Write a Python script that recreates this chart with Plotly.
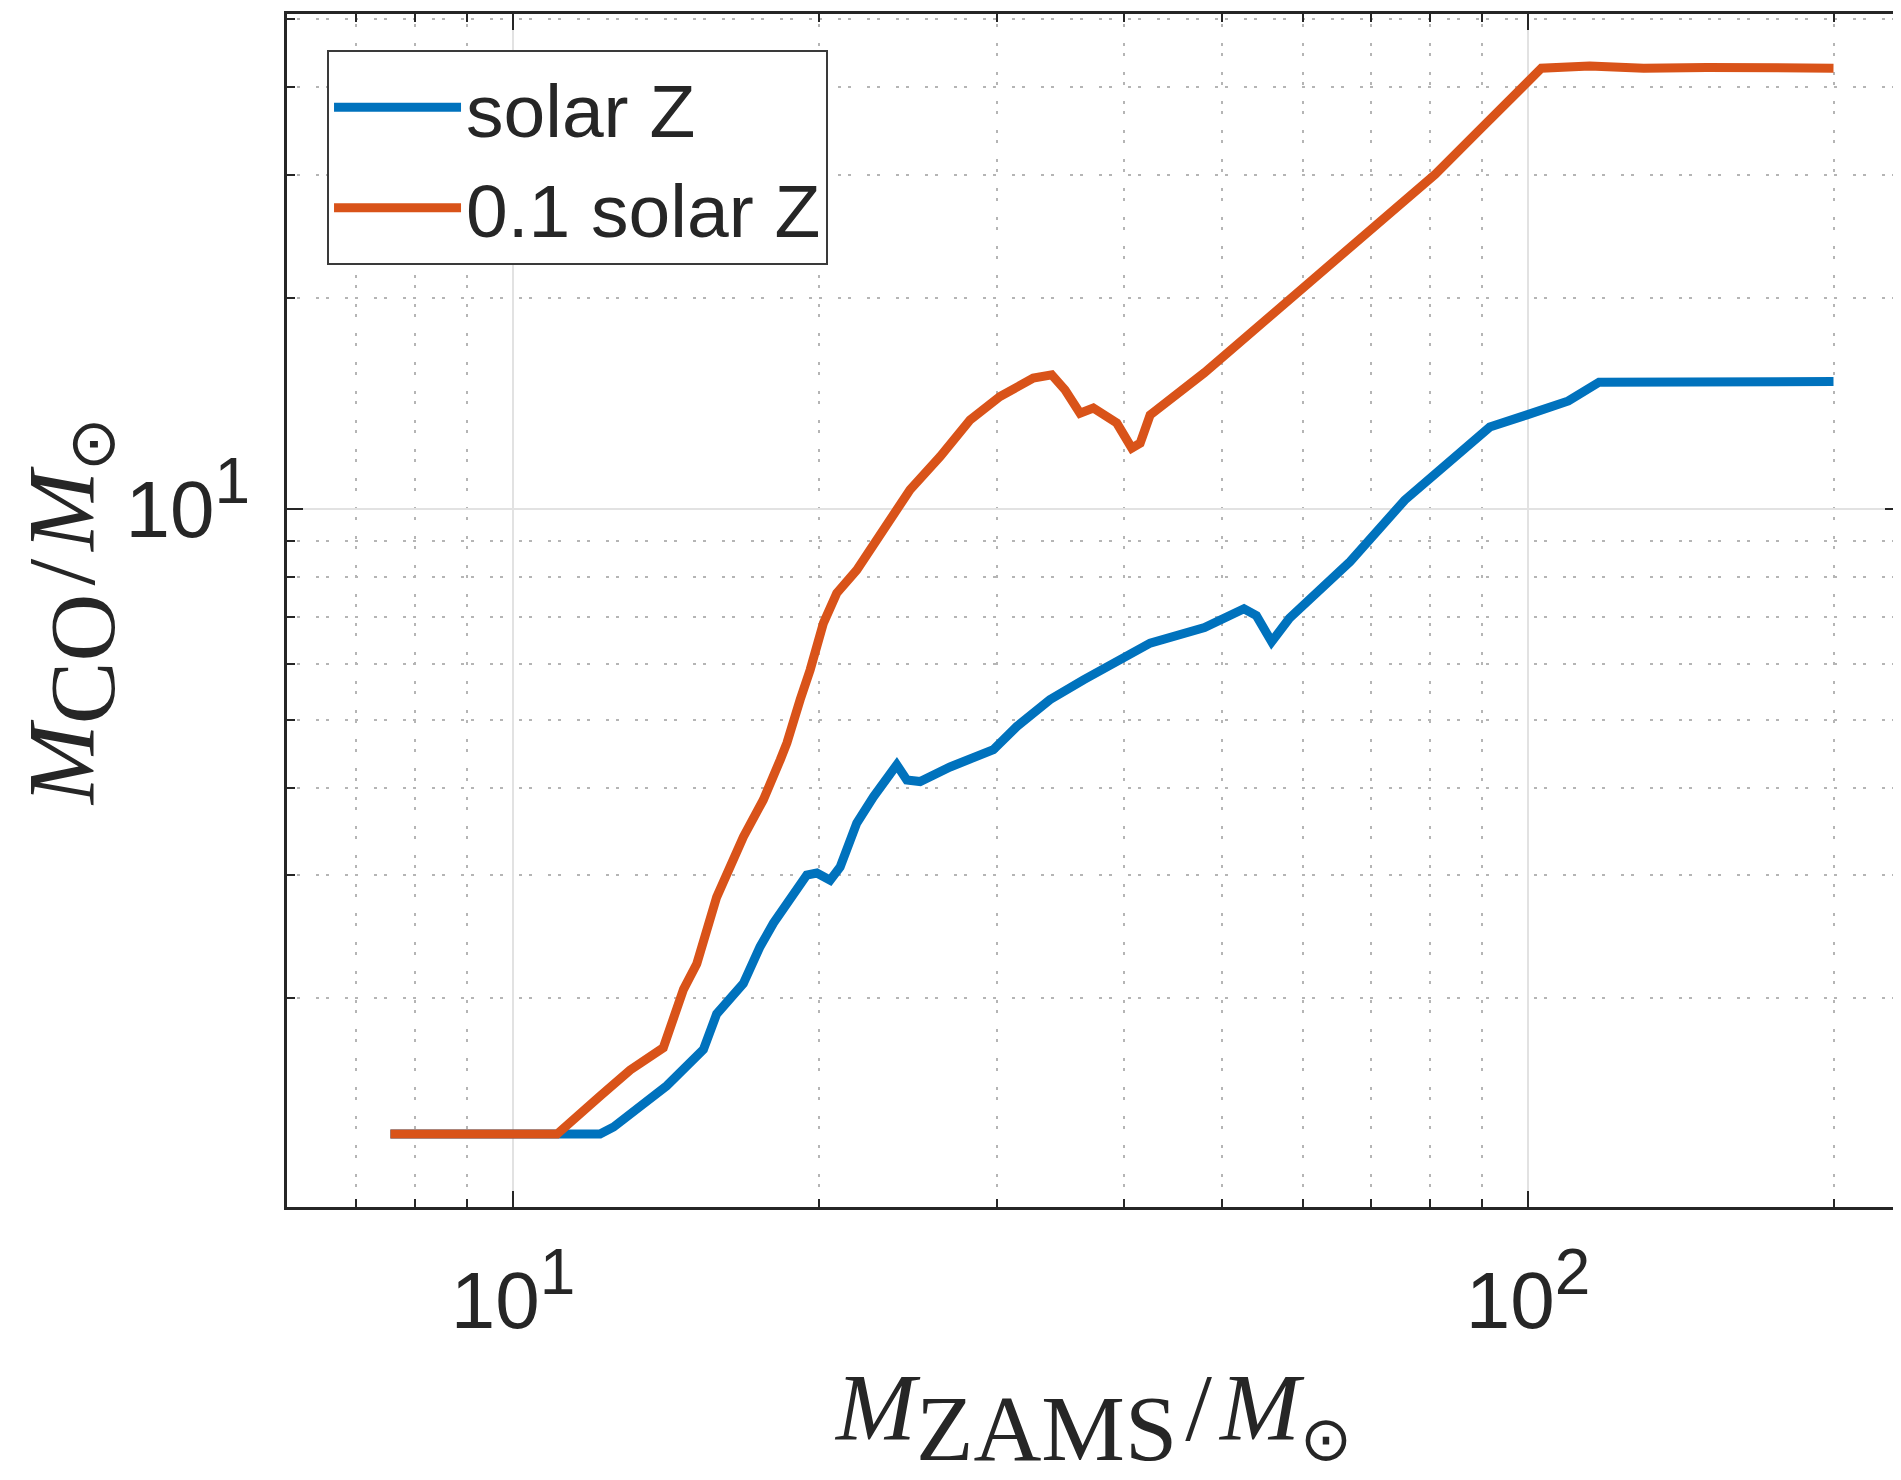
import math
import plotly.graph_objects as go

# ---------------- data ----------------
mzams_solar = [7.57, 11.05, 12.18, 12.56, 14.17, 15.4, 15.87, 16.86, 17.51, 18.05,
               19.47, 19.92, 20.53, 21.0, 21.81, 22.65, 23.88, 24.43, 25.18, 26.95,
               29.73, 31.36, 33.8, 36.48, 39.93, 42.43, 48.0, 52.5, 54.0, 55.9,
               58.2, 66.8, 75.6, 83.3, 91.7, 99.6, 109.6, 117.5, 140.0, 170.0, 200.0]
mco_solar = [1.28, 1.28, 1.28, 1.31, 1.50, 1.69, 1.90, 2.10, 2.37, 2.56,
             3.00, 3.02, 2.95, 3.08, 3.56, 3.88, 4.31, 4.10, 4.08, 4.28,
             4.53, 4.89, 5.34, 5.70, 6.15, 6.43, 6.77, 7.20, 7.04, 6.46,
             6.98, 8.41, 10.29, 11.65, 13.09, 13.61, 14.26, 15.17, 15.2, 15.15, 15.2]

mzams_low = [7.57, 11.05, 12.18, 13.04, 14.06, 14.33, 14.72, 15.17, 15.52, 15.87,
             16.86, 17.64, 18.33, 18.61, 19.18, 19.62, 20.22, 20.84, 21.81, 23.17,
             24.61, 26.35, 28.2, 30.18, 32.55, 33.94, 34.98, 36.19, 37.3, 39.34,
             40.7, 41.48, 42.43, 48.0, 55.1, 59.4, 70.6, 81.0, 89.2, 103.1,
             115.0, 130.0, 150.0, 175.0, 200.0]
mco_low = [1.28, 1.28, 1.45, 1.58, 1.70, 1.84, 2.06, 2.24, 2.53, 2.79,
           3.40, 3.84, 4.38, 4.63, 5.34, 5.89, 6.87, 7.58, 8.18, 9.33,
           10.65, 11.88, 13.4, 14.47, 15.37, 15.54, 14.79, 13.7, 13.93, 13.26,
           12.21, 12.41, 13.62, 15.65, 18.57, 20.38, 25.32, 30.04, 34.55, 42.6,
           42.9, 42.6, 42.7, 42.5, 42.6]

series_names = ["solar Z", "0.1 solar Z"]
series_colors = ["#0072BD", "#D95319"]

SUP = "<sup><span style='font-size:64px'>{}</span></sup>"
x_tickvals = [10, 100]
x_ticktext = ["10" + SUP.format(1), "10" + SUP.format(2)]
y_tickvals = [1, 10]
y_ticktext = ["10" + SUP.format(0), "10" + SUP.format(1)]
x_minor_vals = [7, 8, 9, 20, 30, 40, 50, 60, 70, 80, 90, 200]
y_minor_vals = [2, 3, 4, 5, 6, 7, 8, 9, 20, 30, 40, 50]

x_limits = [5.987, 233.1]
y_limits = [1.007, 50.9]

x_title = ("<i>M</i><sub><span style='font-size:94px'>ZAMS</span></sub>"
           "\u200a/\u200a"
           "<i>M</i><sub><span style='font-size:62px'>⊙</span></sub>")
y_title = ("<i>M</i><sub><span style='font-size:94px'>CO</span></sub>"
           "\u200a/\u200a"
           "<i>M</i><sub><span style='font-size:64px'>⊙</span></sub>")

# ---------------- figure ----------------
# the page adds an 8 px body margin, so the figure is 8 px smaller than the window
INK = "#262626"
fig = go.Figure()
fig.add_trace(go.Scatter(x=mzams_solar, y=mco_solar, mode="lines",
                         name=series_names[0],
                         line=dict(color=series_colors[0], width=9)))
fig.add_trace(go.Scatter(x=mzams_low, y=mco_low, mode="lines",
                         name=series_names[1],
                         line=dict(color=series_colors[1], width=9)))

tick_font = dict(family="Liberation Sans, Arial, sans-serif", size=80, color=INK)
title_font = dict(family="Liberation Serif, Times New Roman, serif", size=96, color=INK)
minor_dash = "3px,7px,3px,16px"

common_axis = dict(
    type="log", automargin=False,
    showline=True, linecolor=INK, linewidth=3, mirror="allticks",
    ticks="inside", ticklen=16, tickwidth=2, tickcolor=INK,
    tickfont=tick_font,
    showgrid=True, gridcolor="#e2e2e2", gridwidth=2,
    zeroline=False,
)

fig.update_xaxes(
    **common_axis,
    range=[math.log10(v) for v in x_limits],
    tickmode="array", tickvals=x_tickvals, ticktext=x_ticktext,
    ticklabelstandoff=22,
    minor=dict(tickmode="array", tickvals=x_minor_vals, ticks="inside",
               ticklen=8, tickwidth=2, tickcolor=INK,
               showgrid=True, gridcolor="#b5b5b5", gridwidth=2,
               griddash=minor_dash),
    title=dict(text=x_title, font=title_font, standoff=40),
)
fig.update_yaxes(
    **common_axis,
    range=[math.log10(v) for v in y_limits],
    tickmode="array", tickvals=y_tickvals, ticktext=y_ticktext,
    ticklabelstandoff=18,
    minor=dict(tickmode="array", tickvals=y_minor_vals, ticks="inside",
               ticklen=8, tickwidth=2, tickcolor=INK,
               showgrid=True, gridcolor="#b5b5b5", gridwidth=2,
               griddash=minor_dash),
    title=dict(text=y_title, font=dict(title_font, size=96), standoff=10),
)

fig.update_layout(
    width=1893, height=1472, autosize=False,
    margin=dict(l=279, r=0, t=6, b=273, pad=0),
    paper_bgcolor="white", plot_bgcolor="white",
    showlegend=True,
    legend=dict(
        x=0.0248, y=0.9698, xanchor="left", yanchor="top",
        bgcolor="white", bordercolor="#3a3a3a", borderwidth=2,
        font=dict(family="Liberation Sans, Arial, sans-serif", size=75, color=INK),
        itemwidth=127, traceorder="normal",
    ),
)

fig.write_html("out.html")
